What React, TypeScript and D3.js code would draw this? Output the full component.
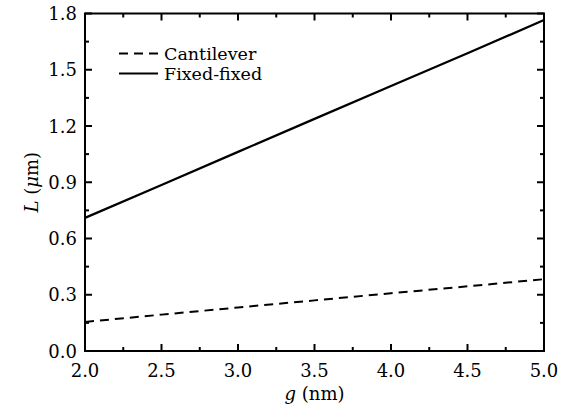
import React from 'react';
import * as d3 from 'd3';

const gValues = [2.0, 2.5, 3.0, 3.5, 4.0, 4.5, 5.0];
const fixedFixed = [0.71, 0.885, 1.062, 1.238, 1.413, 1.588, 1.765];
const cantilever = [0.155, 0.194, 0.232, 0.27, 0.308, 0.345, 0.383];
const xTicks = [2.0, 2.5, 3.0, 3.5, 4.0, 4.5, 5.0];
const yTicks = [0.0, 0.3, 0.6, 0.9, 1.2, 1.5, 1.8];
const seriesNames = ['Cantilever', 'Fixed-fixed'];

const W = 563;
const H = 412;
const margin = { top: 13.5, right: 19, bottom: 61, left: 85 };
const FONT = "'DejaVu Serif', serif";

export default function App() {
  const innerW = W - margin.left - margin.right;
  const innerH = H - margin.top - margin.bottom;

  const x = d3.scaleLinear().domain([2, 5]).range([0, innerW]);
  const y = d3.scaleLinear().domain([0, 1.8]).range([innerH, 0]);

  const line = d3.line<[number, number]>()
    .x(d => x(d[0]))
    .y(d => y(d[1]));

  const ffPath = line(gValues.map((g, i) => [g, fixedFixed[i]]) as [number, number][]) || '';
  const cPath = line(gValues.map((g, i) => [g, cantilever[i]]) as [number, number][]) || '';

  const xMinor = d3.range(2.25, 5, 0.5);
  const yMinor = d3.range(0.15, 1.8, 0.3);

  return (
    <div style={{ position: 'absolute', left: 0, top: 0 }}>
      <svg width={W} height={H} style={{ display: 'block', background: '#fff' }}>
        <g transform={`translate(${margin.left},${margin.top})`}>
          {/* data */}
          <path d={cPath} fill="none" stroke="#000" strokeWidth={2} strokeDasharray="9,6" />
          <path d={ffPath} fill="none" stroke="#000" strokeWidth={2.2} />

          {/* frame */}
          <rect x={0} y={0} width={innerW} height={innerH} fill="none" stroke="#000" strokeWidth={2} />

          {/* x ticks */}
          {xTicks.map(t => (
            <g key={`xt${t}`}>
              <line x1={x(t)} x2={x(t)} y1={innerH} y2={innerH - 7} stroke="#000" strokeWidth={2} />
              <line x1={x(t)} x2={x(t)} y1={0} y2={7} stroke="#000" strokeWidth={2} />
              <text x={x(t)} y={innerH + 26} textAnchor="middle" fontFamily={FONT} fontSize={18}>
                {t.toFixed(1)}
              </text>
            </g>
          ))}
          {xMinor.map(t => (
            <g key={`xm${t}`}>
              <line x1={x(t)} x2={x(t)} y1={innerH} y2={innerH - 4} stroke="#000" strokeWidth={2} />
              <line x1={x(t)} x2={x(t)} y1={0} y2={4} stroke="#000" strokeWidth={2} />
            </g>
          ))}

          {/* y ticks */}
          {yTicks.map(t => (
            <g key={`yt${t}`}>
              <line x1={0} x2={7} y1={y(t)} y2={y(t)} stroke="#000" strokeWidth={2} />
              <line x1={innerW} x2={innerW - 7} y1={y(t)} y2={y(t)} stroke="#000" strokeWidth={2} />
              <text x={-8} y={y(t) + 6.5} textAnchor="end" fontFamily={FONT} fontSize={18}>
                {t.toFixed(1)}
              </text>
            </g>
          ))}
          {yMinor.map(t => (
            <g key={`ym${t}`}>
              <line x1={0} x2={4} y1={y(t)} y2={y(t)} stroke="#000" strokeWidth={2} />
              <line x1={innerW} x2={innerW - 4} y1={y(t)} y2={y(t)} stroke="#000" strokeWidth={2} />
            </g>
          ))}

          {/* legend */}
          <g transform="translate(34,40)">
            <line x1={0} x2={39} y1={0} y2={0} stroke="#000" strokeWidth={2} strokeDasharray="9,6" />
            <text x={45} y={6} fontFamily={FONT} fontSize={17.5}>{seriesNames[0]}</text>
            <line x1={0} x2={39} y1={20} y2={20} stroke="#000" strokeWidth={2} />
            <text x={45} y={26} fontFamily={FONT} fontSize={17.5}>{seriesNames[1]}</text>
          </g>
        </g>

        {/* axis titles */}
        <text x={margin.left + innerW / 2} y={H - 12} textAnchor="middle" fontFamily={FONT} fontSize={18}>
          <tspan fontStyle="italic">g</tspan> (nm)
        </text>
        <text
          transform={`translate(38,${margin.top + innerH / 2}) rotate(-90)`}
          textAnchor="middle"
          fontFamily={FONT}
          fontSize={18}
        >
          <tspan fontStyle="italic">L</tspan> (<tspan fontStyle="italic">μ</tspan>m)
        </text>
      </svg>
    </div>
  );
}
